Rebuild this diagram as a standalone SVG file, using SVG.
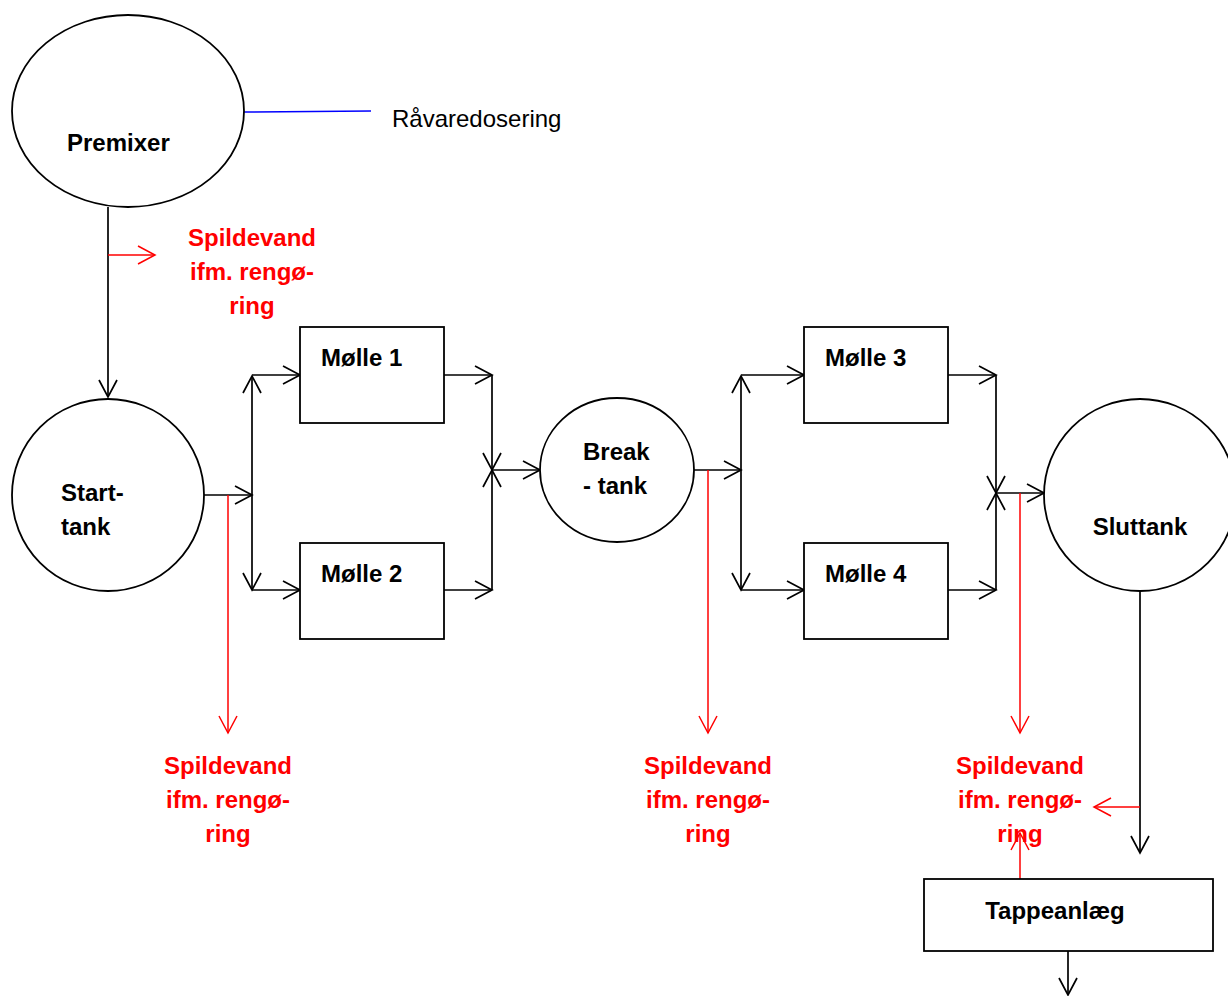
<svg xmlns="http://www.w3.org/2000/svg" width="1228" height="996" viewBox="0 0 1228 996">
<style>
.shape{fill:#fff;stroke:#000;stroke-width:1.8}
.b{stroke:#000;stroke-width:1.7;fill:none}
.r{stroke:#f00;stroke-width:1.5;fill:none}
.bl{stroke:#0000ff;stroke-width:1.5;fill:none}
.t{font-family:"Liberation Sans",Arial,sans-serif;font-size:24px;font-weight:bold;fill:#000}
.n{font-family:"Liberation Sans",Arial,sans-serif;font-size:24px;fill:#000}
.rt{font-family:"Liberation Sans",Arial,sans-serif;font-size:24px;font-weight:bold;fill:#f00;text-anchor:middle}
</style>
<defs>
<marker id="ab" markerUnits="userSpaceOnUse" markerWidth="40" markerHeight="40" viewBox="-20 -20 40 40" refX="0" refY="0" orient="auto">
<path d="M-17,-9 L0,0 L-17,9" fill="none" stroke="#000" stroke-width="1.7"/>
</marker>
<marker id="ar" markerUnits="userSpaceOnUse" markerWidth="40" markerHeight="40" viewBox="-20 -20 40 40" refX="0" refY="0" orient="auto">
<path d="M-17,-9 L0,0 L-17,9" fill="none" stroke="#f00" stroke-width="1.5"/>
</marker>
</defs>
<rect width="1228" height="996" fill="#fff"/>
<g id="connectors">
<line class="bl" x1="244" y1="112" x2="371" y2="111"/>
<line class="b" x1="108" y1="207" x2="108" y2="397" marker-end="url(#ab)"/>
<line class="r" x1="108" y1="255" x2="155" y2="255" marker-end="url(#ar)"/>
<line class="b" x1="204" y1="495" x2="252" y2="495" marker-end="url(#ab)"/>
<line class="b" x1="252" y1="495" x2="252" y2="376" marker-end="url(#ab)"/>
<line class="b" x1="252" y1="495" x2="252" y2="590" marker-end="url(#ab)"/>
<line class="b" x1="252" y1="375" x2="300" y2="375" marker-end="url(#ab)"/>
<line class="b" x1="252" y1="590" x2="300" y2="590" marker-end="url(#ab)"/>
<line class="r" x1="228" y1="495" x2="228" y2="733" marker-end="url(#ar)"/>
<line class="b" x1="444" y1="375" x2="492" y2="375" marker-end="url(#ab)"/>
<line class="b" x1="492" y1="375" x2="492" y2="470" marker-end="url(#ab)"/>
<line class="b" x1="444" y1="590" x2="492" y2="590" marker-end="url(#ab)"/>
<line class="b" x1="492" y1="590" x2="492" y2="470" marker-end="url(#ab)"/>
<line class="b" x1="492" y1="470" x2="540" y2="470" marker-end="url(#ab)"/>
<line class="b" x1="694" y1="470" x2="741" y2="470" marker-end="url(#ab)"/>
<line class="b" x1="741" y1="470" x2="741" y2="376" marker-end="url(#ab)"/>
<line class="b" x1="741" y1="470" x2="741" y2="590" marker-end="url(#ab)"/>
<line class="b" x1="741" y1="375" x2="804" y2="375" marker-end="url(#ab)"/>
<line class="b" x1="741" y1="590" x2="804" y2="590" marker-end="url(#ab)"/>
<line class="r" x1="708" y1="470" x2="708" y2="733" marker-end="url(#ar)"/>
<line class="b" x1="948" y1="375" x2="996" y2="375" marker-end="url(#ab)"/>
<line class="b" x1="996" y1="375" x2="996" y2="493" marker-end="url(#ab)"/>
<line class="b" x1="948" y1="590" x2="996" y2="590" marker-end="url(#ab)"/>
<line class="b" x1="996" y1="590" x2="996" y2="493" marker-end="url(#ab)"/>
<line class="b" x1="996" y1="493" x2="1044" y2="493" marker-end="url(#ab)"/>
<line class="r" x1="1020" y1="493" x2="1020" y2="733" marker-end="url(#ar)"/>
<line class="b" x1="1140" y1="591" x2="1140" y2="853" marker-end="url(#ab)"/>
<line class="r" x1="1140" y1="807" x2="1094" y2="807" marker-end="url(#ar)"/>
<line class="r" x1="1020" y1="879" x2="1020" y2="833" marker-end="url(#ar)"/>
<line class="b" x1="1068" y1="951" x2="1068" y2="995" marker-end="url(#ab)"/>
</g>
<g id="premixer">
<ellipse class="shape" cx="128" cy="111" rx="116" ry="96"/>
<text class="t" x="67" y="151">Premixer</text>
</g>
<g id="raavaredosering">
<text class="n" x="392" y="127">Råvaredosering</text>
</g>
<g id="spildevand1">
<text class="rt" x="252" y="246">Spildevand</text>
<text class="rt" x="252" y="280">ifm. rengø-</text>
<text class="rt" x="252" y="314">ring</text>
</g>
<g id="starttank">
<circle class="shape" cx="108" cy="495" r="96"/>
<text class="t" x="61" y="501">Start-</text>
<text class="t" x="61" y="535">tank</text>
</g>
<g id="molle1">
<rect class="shape" x="300" y="327" width="144" height="96"/>
<text class="t" x="321" y="366">Mølle 1</text>
</g>
<g id="molle2">
<rect class="shape" x="300" y="543" width="144" height="96"/>
<text class="t" x="321" y="582">Mølle 2</text>
</g>
<g id="breaktank">
<ellipse class="shape" cx="617" cy="470" rx="77" ry="72"/>
<text class="t" x="583" y="460">Break</text>
<text class="t" x="583" y="494">- tank</text>
</g>
<g id="molle3">
<rect class="shape" x="804" y="327" width="144" height="96"/>
<text class="t" x="825" y="366">Mølle 3</text>
</g>
<g id="molle4">
<rect class="shape" x="804" y="543" width="144" height="96"/>
<text class="t" x="825" y="582">Mølle 4</text>
</g>
<g id="sluttank">
<circle class="shape" cx="1140" cy="495" r="96"/>
<text class="t" x="1140" y="535" text-anchor="middle">Sluttank</text>
</g>
<g id="spildevand2">
<text class="rt" x="228" y="774">Spildevand</text>
<text class="rt" x="228" y="808">ifm. rengø-</text>
<text class="rt" x="228" y="842">ring</text>
</g>
<g id="spildevand3">
<text class="rt" x="708" y="774">Spildevand</text>
<text class="rt" x="708" y="808">ifm. rengø-</text>
<text class="rt" x="708" y="842">ring</text>
</g>
<g id="spildevand4">
<text class="rt" x="1020" y="774">Spildevand</text>
<text class="rt" x="1020" y="808">ifm. rengø-</text>
<text class="rt" x="1020" y="842">ring</text>
</g>
<g id="tappeanlaeg">
<rect class="shape" x="924" y="879" width="289" height="72"/>
<text class="t" x="1055" y="919" text-anchor="middle">Tappeanlæg</text>
</g>
</svg>
